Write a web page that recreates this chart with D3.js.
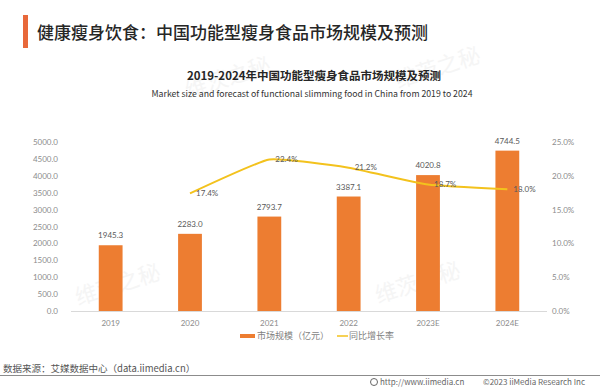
<!DOCTYPE html>
<html><head><meta charset="utf-8">
<script src="https://cdn.jsdelivr.net/npm/d3@7"></script>
<style>
html,body{margin:0;padding:0;background:#fff;}
svg{display:block;font-family:"Noto Sans CJK SC","Noto Sans",sans-serif;}
</style></head>
<body>
<svg id="c" width="600" height="390"></svg>
<script>
const categories = ["2019","2020","2021","2022","2023E","2024E"];
const marketSize = [1945.3, 2283.0, 2793.7, 3387.1, 4020.8, 4744.5];
const growthYears = ["2020","2021","2022","2023E","2024E"];
const growthRate = [17.4, 22.4, 21.2, 18.7, 18.0];
const leftTicks = [0,500,1000,1500,2000,2500,3000,3500,4000,4500,5000];
const rightTicks = [0,5,10,15,20,25];

const svg = d3.select("#c");
const BAR = "#ED7D31", LINE = "#F3C21D", TXT = "#595959", AX = "#8c8c8c";

// watermarks
[[230,85],[440,75],[120,292],[420,290]].forEach(([x,y])=>{
  svg.append("text").attr("x",x).attr("y",y).attr("transform",`rotate(-18,${x},${y})`)
    .attr("text-anchor","middle").attr("font-size",22).attr("fill","#f5f5f5").text("维茨之秘");
});

// header
svg.append("rect").attr("x",23).attr("y",15).attr("width",5).attr("height",33).attr("fill","#E8683A");
svg.append("text").attr("x",37).attr("y",39).attr("font-size",17).attr("font-weight",500)
  .attr("fill","#262626").text("健康瘦身饮食：中国功能型瘦身食品市场规模及预测");
svg.append("text").attr("x",314).attr("y",80).attr("text-anchor","middle").attr("font-size",11.5)
  .attr("font-weight",700).attr("fill","#262626").text("2019-2024年中国功能型瘦身食品市场规模及预测");
svg.append("text").attr("x",312).attr("y",97).attr("text-anchor","middle").attr("font-size",8.5)
  .attr("fill","#333").attr("textLength",321).attr("lengthAdjust","spacingAndGlyphs")
  .text("Market size and forecast of functional slimming food in China from 2019 to 2024");

// scales
const x = d3.scaleBand().domain(categories).range([71,547]).paddingInner(0.7).paddingOuter(0.35);
const y = d3.scaleLinear().domain([0,5000]).range([311,142]);
const yR = d3.scaleLinear().domain([0,25]).range([311,142]);

// left axis
const gL = svg.append("g").attr("transform","translate(62,0)")
  .call(d3.axisLeft(y).tickValues(leftTicks).tickFormat(d3.format(".1f")).tickSize(0).tickPadding(4));
gL.select(".domain").remove();
gL.selectAll("text").attr("fill",AX).attr("font-size",8).attr("font-family","Lato,'Noto Sans',sans-serif");

// right axis
const gR = svg.append("g").attr("transform","translate(552,0)")
  .call(d3.axisRight(yR).tickValues(rightTicks).tickFormat(d=>d3.format(".1f")(d)+"%").tickSize(0).tickPadding(0));
gR.select(".domain").remove();
gR.selectAll("text").attr("fill",AX).attr("font-size",8).attr("font-family","Lato,'Noto Sans',sans-serif");

// bars
svg.append("g").selectAll("rect").data(categories).join("rect")
  .attr("x",d=>x(d)).attr("width",x.bandwidth())
  .attr("y",(d,i)=>y(marketSize[i])).attr("height",(d,i)=>y(0)-y(marketSize[i]))
  .attr("fill",BAR);

// baseline
svg.append("line").attr("x1",71).attr("x2",547).attr("y1",y(0)+0.5).attr("y2",y(0)+0.5)
  .attr("stroke","#d9d9d9").attr("stroke-width",1);

// x axis
const gX = svg.append("g").attr("transform",`translate(0,${y(0)})`)
  .call(d3.axisBottom(x).tickSize(0).tickPadding(9));
gX.select(".domain").remove();
gX.selectAll("text").attr("fill",AX).attr("font-size",8).attr("font-family","Lato,'Noto Sans',sans-serif");

// bar labels
svg.append("g").selectAll("text").data(categories).join("text")
  .attr("x",d=>x(d)+x.bandwidth()/2).attr("y",(d,i)=>y(marketSize[i])-7)
  .attr("text-anchor","middle").attr("font-size",8).attr("fill",TXT)
  .attr("font-family","Lato,'Noto Sans',sans-serif")
  .text((d,i)=>d3.format(".1f")(marketSize[i]));

// line
const cx = d=>x(d)+x.bandwidth()/2;
const pts = growthYears.map((d,i)=>[cx(d), yR(growthRate[i])]);
svg.append("path").attr("d",d3.line().curve(d3.curveCardinal.tension(0.6))(pts))
  .attr("fill","none").attr("stroke",LINE).attr("stroke-width",2);
svg.append("g").selectAll("text").data(growthYears).join("text")
  .attr("x",d=>cx(d)+6).attr("y",(d,i)=>yR(growthRate[i])).attr("dy","0.35em")
  .attr("font-size",8).attr("fill",TXT).attr("font-family","Lato,'Noto Sans',sans-serif")
  .text((d,i)=>d3.format(".1f")(growthRate[i])+"%");

// legend
svg.append("rect").attr("x",240).attr("y",334).attr("width",15).attr("height",4).attr("fill",BAR);
svg.append("text").attr("x",257).attr("y",339).attr("font-size",9).attr("fill","#7f7f7f").text("市场规模（亿元）");
svg.append("line").attr("x1",337).attr("x2",348).attr("y1",336).attr("y2",336).attr("stroke",LINE).attr("stroke-width",1.5);
svg.append("text").attr("x",349).attr("y",339).attr("font-size",9).attr("fill","#7f7f7f").text("同比增长率");

// footer
svg.append("text").attr("x",3).attr("y",372).attr("font-size",9.5).attr("fill","#555").text("数据来源：艾媒数据中心（data.iimedia.cn）");
svg.append("line").attr("x1",0).attr("x2",600).attr("y1",375.5).attr("y2",375.5).attr("stroke","#8c8c8c").attr("stroke-width",1.2);
svg.append("circle").attr("cx",374).attr("cy",382).attr("r",3.5).attr("fill","none").attr("stroke","#666").attr("stroke-width",1);
svg.append("text").attr("x",380).attr("y",385).attr("font-size",8).attr("fill","#666").text("http://www.iimedia.cn");
svg.append("text").attr("x",483).attr("y",385).attr("font-size",8).attr("fill","#666").text("©2023  iiMedia Research  Inc");
</script>
</body></html>
